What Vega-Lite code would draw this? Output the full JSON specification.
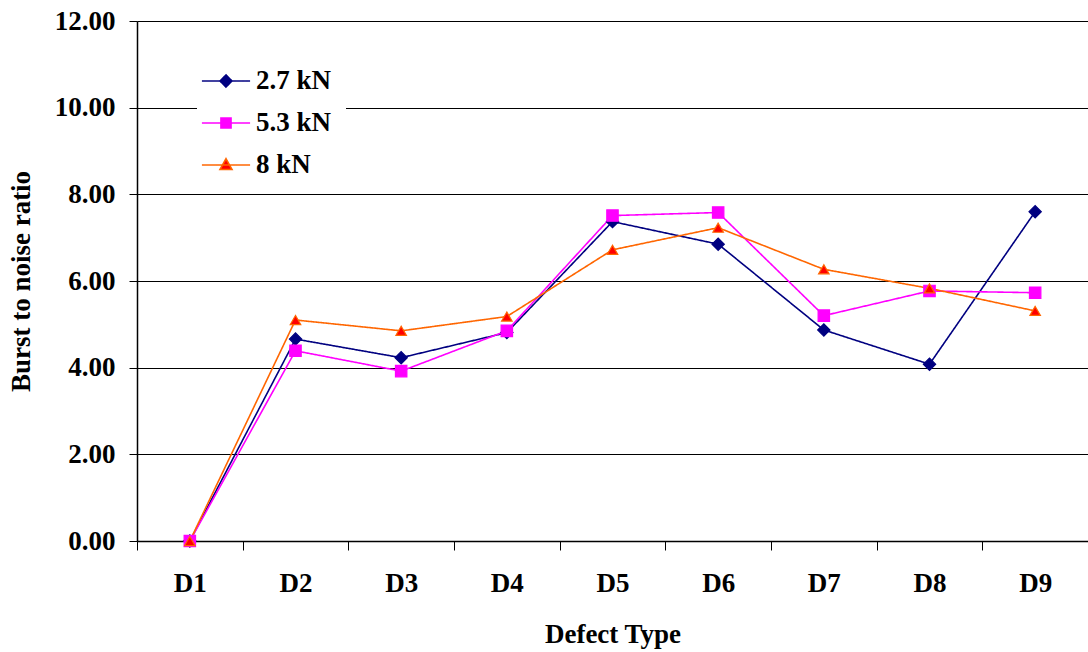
{
  "$schema": "https://vega.github.io/schema/vega-lite/v6.json",
  "width": 951,
  "height": 520,
  "autosize": {"type": "none"},
  "padding": {"left": 137, "top": 21, "right": 0, "bottom": 111},
  "background": "white",
  "config": {
    "view": {"stroke": null},
    "font": "Liberation Serif"
  },
  "data": {
    "values": [
      {"defect": "D1", "series": "2.7 kN", "value": 0},
      {"defect": "D2", "series": "2.7 kN", "value": 4.66},
      {"defect": "D3", "series": "2.7 kN", "value": 4.23},
      {"defect": "D4", "series": "2.7 kN", "value": 4.81},
      {"defect": "D5", "series": "2.7 kN", "value": 7.37},
      {"defect": "D6", "series": "2.7 kN", "value": 6.85},
      {"defect": "D7", "series": "2.7 kN", "value": 4.87},
      {"defect": "D8", "series": "2.7 kN", "value": 4.08},
      {"defect": "D9", "series": "2.7 kN", "value": 7.6},
      {"defect": "D1", "series": "5.3 kN", "value": 0},
      {"defect": "D2", "series": "5.3 kN", "value": 4.39},
      {"defect": "D3", "series": "5.3 kN", "value": 3.92},
      {"defect": "D4", "series": "5.3 kN", "value": 4.85},
      {"defect": "D5", "series": "5.3 kN", "value": 7.51},
      {"defect": "D6", "series": "5.3 kN", "value": 7.58},
      {"defect": "D7", "series": "5.3 kN", "value": 5.2},
      {"defect": "D8", "series": "5.3 kN", "value": 5.77},
      {"defect": "D9", "series": "5.3 kN", "value": 5.73},
      {"defect": "D1", "series": "8 kN", "value": 0},
      {"defect": "D2", "series": "8 kN", "value": 5.1},
      {"defect": "D3", "series": "8 kN", "value": 4.85},
      {"defect": "D4", "series": "8 kN", "value": 5.18},
      {"defect": "D5", "series": "8 kN", "value": 6.72},
      {"defect": "D6", "series": "8 kN", "value": 7.23},
      {"defect": "D7", "series": "8 kN", "value": 6.27},
      {"defect": "D8", "series": "8 kN", "value": 5.83},
      {"defect": "D9", "series": "8 kN", "value": 5.31}
    ]
  },
  "encoding": {
    "x": {
      "field": "defect",
      "type": "nominal",
      "bandPosition": 0.5,
      "scale": {"type": "band", "paddingInner": 0, "paddingOuter": 0},
      "axis": {
        "title": "Defect Type",
        "titleFont": "Liberation Serif",
        "titleFontSize": 27,
        "titleFontWeight": "bold",
        "titleColor": "black",
        "titlePadding": 25,
        "labelAngle": 0,
        "labelFont": "Liberation Serif",
        "labelFontSize": 27,
        "labelFontWeight": "bold",
        "labelColor": "black",
        "labelPadding": 20,
        "tickBand": "extent",
        "tickSize": 9,
        "tickColor": "black",
        "tickWidth": 1,
        "domainColor": "black",
        "domainWidth": 1.5,
        "grid": false
      }
    },
    "y": {
      "field": "value",
      "type": "quantitative",
      "scale": {"domain": [0, 12], "nice": false},
      "axis": {
        "title": "Burst to noise ratio",
        "titleFont": "Liberation Serif",
        "titleFontSize": 27,
        "titleFontWeight": "bold",
        "titleColor": "black",
        "titlePadding": 19,
        "values": [0, 2, 4, 6, 8, 10, 12],
        "format": ".2f",
        "labelFont": "Liberation Serif",
        "labelFontSize": 27,
        "labelFontWeight": "bold",
        "labelColor": "black",
        "labelPadding": 14,
        "tickSize": 8,
        "tickColor": "black",
        "domainColor": "black",
        "domainWidth": 1.5,
        "grid": true,
        "gridColor": "black",
        "gridWidth": 1,
        "gridOpacity": 1
      }
    }
  },
  "layer": [
    {
      "mark": {"type": "line", "strokeWidth": 1.6},
      "encoding": {
        "stroke": {
          "field": "series",
          "type": "nominal",
          "scale": {"range": ["#000080", "#FF00FF", "#FF6600"]},
          "legend": null
        },
        "strokeDash": {
          "field": "series",
          "type": "nominal",
          "scale": {"domain": ["2.7 kN", "5.3 kN", "8 kN"], "range": [[1, 0], [1, 0], [1, 0]]},
          "legend": {
            "title": null,
            "orient": "none",
            "legendX": 60,
            "legendY": 31,
            "fillColor": "white",
            "padding": 14,
            "symbolSize": 784,
            "symbolStrokeWidth": 1.6,
            "labelFont": "Liberation Serif",
            "labelFontSize": 27,
            "labelFontWeight": "bold",
            "labelColor": "black",
            "labelOffset": 15,
            "rowPadding": 14,
            "labelLimit": 300,
            "encode": {"symbols": {"update": {
              "shape": {"signal": "datum.value === '2.7 kN' ? 'M-1.72,0L1.72,0M0,-0.43L0.43,0L0,0.43L-0.43,0Z' : datum.value === '5.3 kN' ? 'M-1.72,0L1.72,0M-0.36,-0.36L0.36,-0.36L0.36,0.36L-0.36,0.36Z' : 'M-1.72,0L1.72,0M0,-0.45L0.43,0.32L-0.43,0.32Z'"},
              "fill": {"signal": "datum.value === '2.7 kN' ? '#000080' : datum.value === '5.3 kN' ? '#FF00FF' : '#FF0000'"},
              "stroke": {"signal": "datum.value === '2.7 kN' ? '#000080' : datum.value === '5.3 kN' ? '#FF00FF' : '#FF6600'"},
              "strokeWidth": {"value": 1.6},
              "size": {"value": 784},
              "opacity": {"value": 1}
            }}}
          }
        }
      }
    },
    {
      "mark": {"type": "point", "filled": true, "opacity": 1, "strokeWidth": 1.2},
      "encoding": {
        "shape": {
          "field": "series",
          "type": "nominal",
          "scale": {"range": ["diamond", "square", "triangle-up"]},
          "legend": null
        },
        "fill": {
          "field": "series",
          "type": "nominal",
          "scale": {"range": ["#000080", "#FF00FF", "#FF0000"]},
          "legend": null
        },
        "stroke": {
          "field": "series",
          "type": "nominal",
          "legend": null
        },
        "size": {
          "field": "series",
          "type": "nominal",
          "scale": {"range": [150, 110, 180]},
          "legend": null
        }
      }
    }
  ]
}
